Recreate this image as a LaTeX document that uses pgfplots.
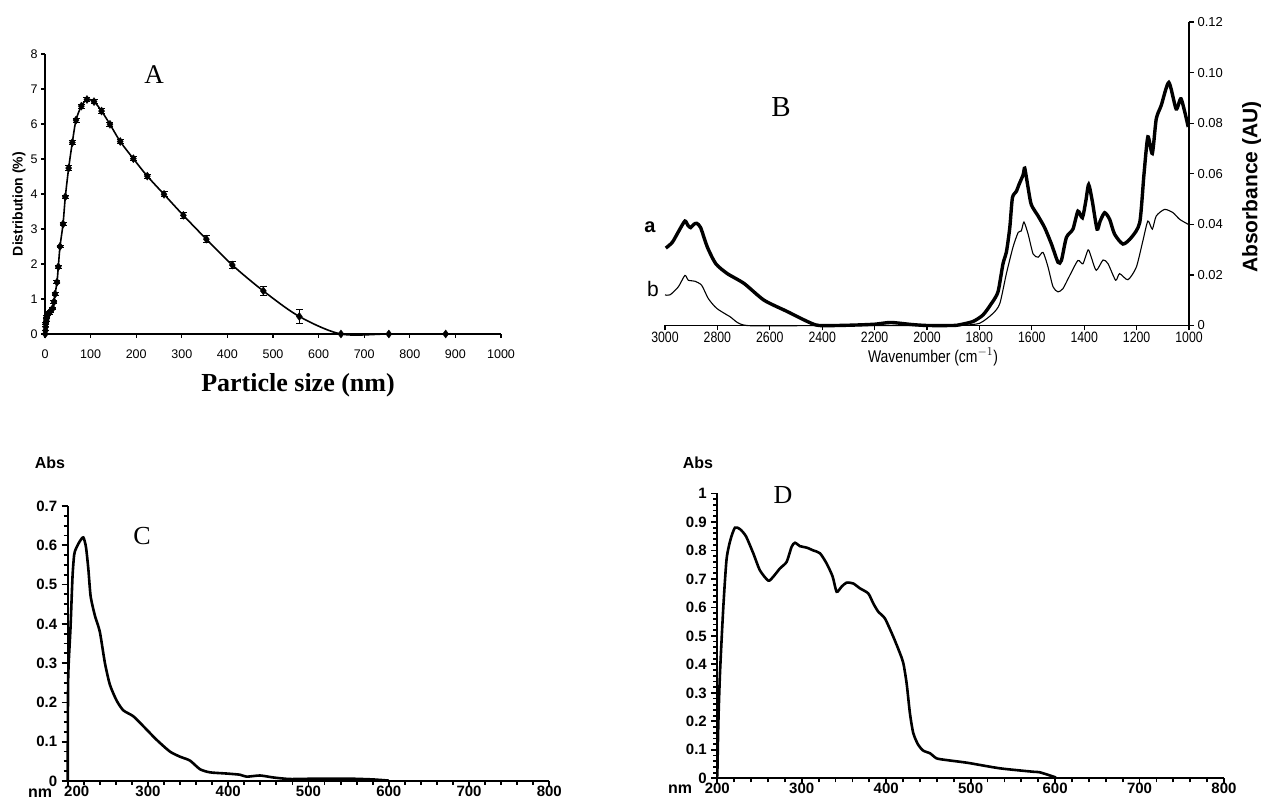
\documentclass[border=0pt]{standalone}
\usepackage{pgfplots}
\usepackage{pgfplotstable}
\pgfplotsset{compat=1.18}
\usepackage{fontspec}
\setmainfont{Liberation Serif}
\setsansfont{Liberation Sans}
\newfontfamily\arial{Liberation Sans}
\newfontfamily\arialn[FakeStretch=0.82]{Liberation Sans}

\pgfplotstableread{
x y e
0.5 0 0
1 0.1 0
1.5 0.2 0
2 0.3 0.03
3 0.4 0.03
4 0.5 0.03
6 0.55 0.03
9 0.6 0.03
12 0.65 0.03
16.8 0.73 0.04
19.7 0.92 0.04
22 1.14 0.04
26.3 1.48 0.04
29.2 1.92 0.04
32.9 2.5 0.04
39.5 3.14 0.05
44.6 3.92 0.05
51.9 4.74 0.06
59.9 5.47 0.06
68 6.11 0.06
79.7 6.51 0.06
92 6.7 0.06
107.5 6.64 0.06
124 6.37 0.06
142.5 5.99 0.06
165 5.5 0.05
193.7 5.01 0.06
224.4 4.51 0.06
261 3.99 0.07
303.4 3.39 0.09
353.8 2.71 0.11
410.8 1.97 0.11
478.8 1.23 0.13
557.7 0.5 0.2
649 0 0
754 0 0
878.7 0 0
}\dataA

\pgfplotstableread{
x y
2997 0.0306
2972 0.0329
2947 0.0374
2924 0.0413
2912 0.0395
2902 0.0387
2890 0.0400
2879 0.0404
2864 0.0387
2838 0.0309
2806 0.0244
2762 0.0205
2698 0.0166
2622 0.0100
2533 0.0055
2457 0.0016
2412 0.0000
2300 0.0001
2200 0.0005
2139 0.0012
2060 0.0004
2000 0.0000
1900 0.0000
1875 0.0003
1824 0.0016
1786 0.0042
1754 0.0087
1729 0.0133
1710 0.0244
1697 0.0290
1684 0.0387
1674 0.0505
1659 0.0530
1649 0.0557
1633 0.0596
1627 0.0622
1614 0.0544
1602 0.0478
1576 0.0433
1551 0.0387
1525 0.0322
1500 0.0250
1487 0.0257
1468 0.0348
1443 0.0381
1424 0.0452
1407 0.0426
1394 0.0491
1383 0.0557
1369 0.0491
1351 0.0381
1339 0.0413
1322 0.0446
1303 0.0420
1284 0.0361
1252 0.0322
1220 0.0348
1188 0.0407
1172 0.0596
1157 0.0746
1140 0.0680
1125 0.0817
1106 0.0870
1077 0.0961
1049 0.0856
1030 0.0896
1003 0.0785
}\dataBa

\pgfplotstableread{
x y
3000 0.0121
2981 0.0121
2949 0.0153
2924 0.0198
2911 0.0179
2886 0.0175
2860 0.0159
2835 0.0107
2803 0.0068
2752 0.0035
2688 0.0
2400 0
2000 0
1875 0
1799 0.0009
1748 0.0048
1722 0.0087
1697 0.0205
1672 0.0309
1652 0.0368
1640 0.0374
1630 0.0409
1614 0.0361
1595 0.0283
1576 0.0270
1557 0.0289
1538 0.0231
1519 0.0153
1500 0.0133
1481 0.0146
1455 0.0198
1424 0.0257
1405 0.0244
1385 0.0299
1373 0.0270
1354 0.0218
1328 0.0259
1309 0.0244
1280 0.0179
1265 0.0205
1233 0.0181
1201 0.0231
1176 0.0335
1157 0.0413
1140 0.0381
1125 0.0433
1093 0.0459
1061 0.0446
1036 0.0420
1003 0.0400
}\dataBb

\pgfplotstableread{
x y
200 0
200.6 0.26
203.5 0.39
206 0.52
208 0.575
210 0.59
215 0.61
219.5 0.62
222.8 0.595
225.7 0.54
228.6 0.47
234 0.42
240 0.38
246.4 0.30
252.6 0.245
260.9 0.205
269.2 0.18
281.6 0.165
294 0.14
310.7 0.105
327.3 0.075
339.8 0.062
352.3 0.052
364.8 0.03
377.2 0.022
398 0.019
414.6 0.016
422.9 0.011
439.5 0.014
456.1 0.009
476.9 0.005
510 0.006
550 0.006
580 0.004
600 0.001
}\dataC

\pgfplotstableread{
x y
200 0.006
201.2 0.19
203.2 0.37
207.1 0.60
211 0.77
215.8 0.84
220.9 0.88
226.8 0.875
233.9 0.85
242.6 0.79
250.5 0.73
260.4 0.694
266.3 0.708
274.2 0.737
282.1 0.76
288 0.813
292 0.827
297.9 0.815
305.8 0.81
313.7 0.80
321.6 0.79
329.5 0.754
336.6 0.708
341.3 0.655
347.2 0.673
353.1 0.687
361 0.684
368.9 0.667
378.8 0.649
384.7 0.614
390.6 0.585
398.5 0.561
408.4 0.497
416.3 0.439
420.3 0.404
424.2 0.333
428.1 0.228
432.1 0.158
438 0.117
443.9 0.097
451.8 0.088
459.7 0.07
471.6 0.064
487.4 0.058
499.2 0.053
534.7 0.035
574 0.023
582 0.021
601 0.003
}\dataD

\pgfplotsset{
  common/.style={
    scale only axis, anchor=south west, clip=false,
    /pgf/number format/assume math mode=true,
    /pgf/number format/1000 sep={},
    tick align=outside,
    axis line style={-, black},
    every tick/.style={black},
  },
  uv/.style={
    common,
    axis x line*=bottom, axis y line*=left,
    axis line style={line width=2.2pt},
    every tick/.style={black, line width=1.8pt},
    major tick length=6pt, minor tick length=4pt,
    minor x tick num=4,
    xmin=200, xmax=800, ymin=0,
    xtick={200,300,...,800},
    ticklabel style={font=\arial\bfseries\fontsize{15}{15}\selectfont},
    xticklabel style={yshift=5pt},
    yticklabel style={xshift=-1pt},
  },
}

\begin{document}
\begin{tikzpicture}[x=1pt,y=1pt]
\useasboundingbox (0,0) rectangle (1261,811);

% ---------------- Panel A
\begin{axis}[common,
  at={(45pt,477pt)}, width=456pt, height=280pt,
  axis x line*=bottom, axis y line*=left,
  axis line style={line width=1.4pt},
  every tick/.style={black, line width=1.2pt},
  major tick length=4pt,
  xmin=0, xmax=1000, ymin=0, ymax=8,
  xtick={0,100,...,1000}, ytick={0,1,...,8},
  ticklabel style={font=\arial\fontsize{12.5}{12.5}\selectfont},
  xticklabel style={yshift=-8pt},
]
\addplot[black, line width=1.6pt, smooth, tension=0.5] table[x=x,y=y]{\dataA};
\addplot[black, only marks, mark=diamond*, mark size=4pt,
  error bars/.cd, y dir=both, y explicit,
  error bar style={line width=1pt},
  error mark options={rotate=90, mark size=3.5pt, line width=1pt}]
  table[x=x,y=y,y error=e]{\dataA};
\end{axis}
\node[font=\fontsize{27}{27}\selectfont] at (154,736) {A};
\node[rotate=90, font=\arial\bfseries\fontsize{14}{14}\selectfont] at (19,607) {Distribution (\%)};
\node[font=\bfseries\fontsize{26}{26}\selectfont] at (298,426) {Particle size (nm)};

% ---------------- Panel B
\begin{axis}[common,
  at={(665pt,485.5pt)}, width=524pt, height=303.5pt,
  axis x line*=bottom, axis y line*=right,
  axis line style={line width=1.4pt},
  every tick/.style={black, line width=1.2pt},
  major tick length=5pt,
  x dir=reverse, xmin=1000, xmax=3000, ymin=0, ymax=0.12,
  xtick={1000,1200,...,3000},
  ytick={0,0.02,0.04,0.06,0.08,0.10,0.12},
  yticklabels={0,0.02,0.04,0.06,0.08,0.10,0.12},
  xticklabel style={font=\arialn\fontsize{15}{15}\selectfont, yshift=2pt},
  yticklabel style={font=\arial\fontsize{13}{13}\selectfont},
]
\addplot[black, line width=3.4pt, smooth, tension=0.4] table[x=x,y=y]{\dataBa};
\addplot[black, line width=1.1pt, smooth, tension=0.4] table[x=x,y=y]{\dataBb};
\end{axis}
\node[font=\fontsize{29}{29}\selectfont] at (781,704) {B};
\node[font=\arial\bfseries\fontsize{20}{20}\selectfont] at (650,584) {a};
\node[font=\arial\fontsize{21}{21}\selectfont] at (653,522) {b};
\node[rotate=90, font=\arial\bfseries\fontsize{21}{21}\selectfont] at (1252,624) {Absorbance (AU)};
\node[font=\arialn\fontsize{17}{17}\selectfont] at (933,454) {Wavenumber (cm$^{-1}$)};

% ---------------- Panel C
\begin{axis}[uv,
  at={(67.7pt,30pt)}, width=481.6pt, height=275pt,
  ymax=0.7, ytick={0,0.1,...,0.7}, minor y tick num=3,
  yticklabels={0,0.1,0.2,0.3,0.4,0.5,0.6,0.7},
  xticklabels={\makebox[0pt][l]{\hspace{-3.5pt}200},300,400,500,600,700,800},
]
\addplot[black, line width=2.6pt, smooth, tension=0.4] table[x=x,y=y]{\dataC};
\end{axis}
\node[font=\fontsize{26}{26}\selectfont] at (142,275) {C};
\node[font=\arial\bfseries\fontsize{16}{16}\selectfont] at (50,348) {Abs};
\node[font=\arial\bfseries\fontsize{16}{16}\selectfont] at (40,18) {nm};

% ---------------- Panel D
\begin{axis}[uv,
  at={(717.3pt,32.7pt)}, width=506.7pt, height=284.8pt,
  ymax=1, ytick={0,0.1,...,1}, minor y tick num=4,
  yticklabels={0,0.1,0.2,0.3,0.4,0.5,0.6,0.7,0.8,0.9,1},
  xticklabels={200,300,400,500,600,700,800},
]
\addplot[black, line width=2.6pt, smooth, tension=0.4] table[x=x,y=y]{\dataD};
\end{axis}
\node[font=\fontsize{26}{26}\selectfont] at (783,316) {D};
\node[font=\arial\bfseries\fontsize{16}{16}\selectfont] at (698,348) {Abs};
\node[font=\arial\bfseries\fontsize{16}{16}\selectfont] at (680,22) {nm};
\end{tikzpicture}
\end{document}
